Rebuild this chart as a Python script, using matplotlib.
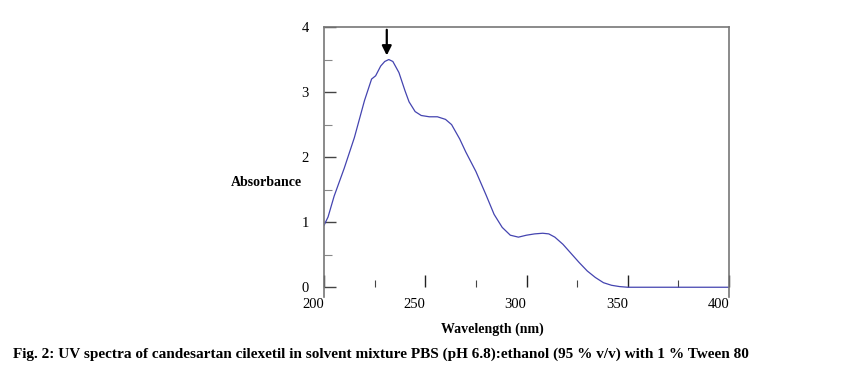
import numpy as np
import matplotlib
matplotlib.use('Agg')
import matplotlib.pyplot as plt
from matplotlib.ticker import MultipleLocator

# Spectrum
wavelength = [200, 202, 205, 210, 215, 220, 223.5, 225.5, 228, 230, 232, 234, 237,
              240, 242, 245, 248, 252, 256, 260, 263, 267, 270, 275, 280, 284,
              288, 292, 296, 300, 304, 308, 311, 314, 318, 322, 326, 330, 334,
              338, 342, 346, 350, 355, 380, 400]
absorbance = [0.95, 1.08, 1.40, 1.83, 2.30, 2.87, 3.20, 3.25, 3.40, 3.47, 3.50, 3.47, 3.30,
              3.02, 2.85, 2.70, 2.64, 2.62, 2.62, 2.58, 2.50, 2.28, 2.08, 1.78, 1.42, 1.12,
              0.92, 0.80, 0.77, 0.80, 0.82, 0.83, 0.82, 0.77, 0.66, 0.52, 0.38, 0.25, 0.15,
              0.07, 0.03, 0.01, 0.0, 0.0, 0.0, 0.0]
x_ticks = [200, 250, 300, 350, 400]
y_ticks = [0, 1, 2, 3, 4]
peak_nm = 232
caption = "Fig. 2: UV spectra of candesartan cilexetil in solvent mixture PBS (pH 6.8):ethanol (95 % v/v) with 1 % Tween 80"

plt.rcParams['font.family'] = ['Liberation Serif', 'DejaVu Serif']

fig = plt.figure(figsize=(8.63, 3.73), dpi=100)
ax = fig.add_axes([324 / 863, (373 - 297) / 373, 405 / 863, 270 / 373])

ax.plot(wavelength, absorbance, color='#4444b0', lw=0.9)

ax.set_xlim(200, 400)
ax.set_ylim(-0.15, 4.0)

spine_col = '#777777'
for s in ['left', 'right', 'top']:
    ax.spines[s].set_color(spine_col)
    ax.spines[s].set_linewidth(1.2)
ax.spines['bottom'].set_position(('data', 0))
ax.spines['bottom'].set_color('none')

ax.set_xticks(x_ticks)
ax.set_xticks([225, 275, 325, 375], minor=True)
ax.set_yticks(y_ticks)
ax.yaxis.set_minor_locator(MultipleLocator(0.5))

ax.tick_params(axis='x', which='major', direction='in', length=8.5, width=1, color='#222222',
               labelsize=10.5, pad=8)
ax.tick_params(axis='x', which='minor', direction='in', length=5, width=0.8, color='#444444')
ax.tick_params(axis='y', which='major', direction='in', length=8.5, width=1, color='#444444',
               labelsize=10.5, pad=11)
ax.tick_params(axis='y', which='minor', direction='in', length=5.5, width=0.8, color='#888888')
for lab in ax.get_xticklabels():
    lab.set_horizontalalignment('right')

# arrow marking the absorption maximum
ax.annotate('', xy=(peak_nm - 1, 3.52), xytext=(peak_nm - 1, 4.0),
            arrowprops=dict(arrowstyle='-|>', color='black', lw=1.6, mutation_scale=14))

fig.text(231 / 863, 1 - 182 / 373, 'Absorbance', fontsize=10, fontweight='bold',
         ha='left', va='center')
fig.text(492 / 863, 1 - 329 / 373, 'Wavelength (nm)', fontsize=10, fontweight='bold',
         ha='center', va='center')
fig.text(13 / 863, 1 - 354 / 373, caption, fontsize=11, fontweight='bold',
         ha='left', va='center')

fig.savefig('out.png', dpi=100)
